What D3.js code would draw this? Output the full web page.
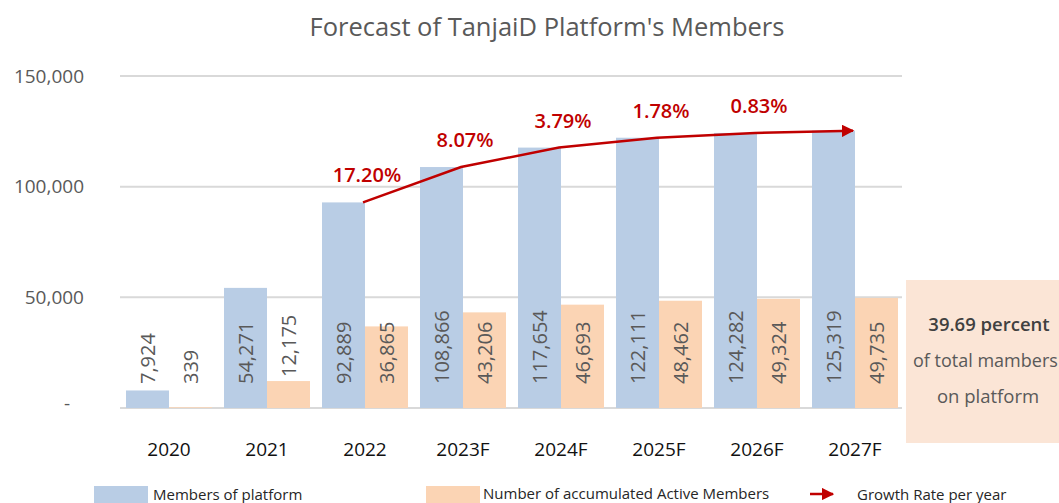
<!DOCTYPE html>
<html>
<head>
<meta charset="utf-8">
<script src="https://cdn.jsdelivr.net/npm/d3@7"></script>
<style>
  body { margin: 0; background: #fff; }
  svg { display: block; font-family: "Open Sans", sans-serif; }
</style>
</head>
<body>
<div id="chart"></div>
<script>
// chart data
var categories = ["2020", "2021", "2022", "2023F", "2024F", "2025F", "2026F", "2027F"];
var members = [7924, 54271, 92889, 108866, 117654, 122111, 124282, 125319];
var activeMembers = [339, 12175, 36865, 43206, 46693, 48462, 49324, 49735];
var growthYears = ["2022", "2023F", "2024F", "2025F", "2026F", "2027F"];
var growthLabels = ["17.20%", "8.07%", "3.79%", "1.78%", "0.83%"];
var yTicks = [0, 50000, 100000, 150000];
var seriesNames = ["Members of platform", "Number of accumulated Active Members", "Growth Rate per year"];

var W = 1059, H = 503;
var blue = "#b9cde5", orange = "#fbd4b4", red = "#c00000";

var svg = d3.select("#chart").append("svg")
  .attr("width", W)
  .attr("height", H);

var defs = svg.append("defs");
defs.append("marker")
  .attr("id", "arrow")
  .attr("viewBox", "0 0 10 10")
  .attr("refX", 9).attr("refY", 5)
  .attr("markerWidth", 5).attr("markerHeight", 5)
  .attr("markerUnits", "strokeWidth")
  .attr("orient", "auto")
  .append("path")
  .attr("d", "M0,0 L10,5 L0,10 Z")
  .attr("fill", red);

// scales
var x = d3.scaleBand().domain(categories).range([120, 904]);
var xs = d3.scaleBand().domain(["members", "active"]).range([6, 92]);
var y = d3.scaleLinear().domain([0, 150000]).range([408, 76]);

// title
svg.append("text")
  .attr("x", 547).attr("y", 36)
  .attr("text-anchor", "middle")
  .attr("fill", "#595959")
  .style("font-size", "25.5px")
  .text("Forecast of TanjaiD Platform's Members");

// grid
svg.selectAll(".grid")
  .data(yTicks)
  .enter().append("line")
  .attr("x1", 120).attr("x2", 902)
  .attr("y1", function(d) { return y(d); })
  .attr("y2", function(d) { return y(d); })
  .attr("stroke", "#d9d9d9")
  .attr("stroke-width", 2);

// y axis labels
var yAxis = svg.append("g")
  .attr("transform", "translate(84,0)")
  .call(d3.axisLeft(y).tickValues(yTicks).tickSize(0).tickPadding(0)
    .tickFormat(function(d) { return d === 0 ? "-" : d3.format(",")(d); }));
yAxis.select(".domain").remove();
yAxis.selectAll("text")
  .attr("fill", "#595959")
  .style("font-family", "Open Sans, sans-serif")
  .style("font-size", "19px");
yAxis.selectAll(".tick").filter(function(d) { return d === 0; }).select("text")
  .attr("x", -14).attr("dy", "0.1em");

// bars
var groups = svg.selectAll(".cat")
  .data(categories)
  .enter().append("g")
  .attr("transform", function(d) { return "translate(" + x(d) + ",0)"; });

groups.append("rect")
  .attr("x", xs("members"))
  .attr("width", xs.bandwidth())
  .attr("y", function(d, i) { return y(members[i]); })
  .attr("height", function(d, i) { return y(0) - y(members[i]); })
  .attr("fill", blue);

groups.append("rect")
  .attr("x", xs("active"))
  .attr("width", xs.bandwidth())
  .attr("y", function(d, i) { return y(activeMembers[i]); })
  .attr("height", function(d, i) { return y(0) - y(activeMembers[i]); })
  .attr("fill", orange);

// value labels (rotated, near bar base)
function valueLabel(vals, key) {
  groups.append("text")
    .attr("transform", function(d, i) {
      var cx = xs(key) + xs.bandwidth() / 2 + 7;
      var top = y(vals[i]);
      var cy = (top > 360 && top < 400) ? Math.min(384, top - 4) : 384;
      return "translate(" + cx + "," + cy + ") rotate(-90)";
    })
    .attr("fill", "#595959")
    .style("font-size", "20px")
    .text(function(d, i) { return d3.format(",")(vals[i]); });
}
valueLabel(members, "members");
valueLabel(activeMembers, "active");

// category labels
svg.selectAll(".catLabel")
  .data(categories)
  .enter().append("text")
  .attr("x", function(d) { return x(d) + x.bandwidth() / 2; })
  .attr("y", 456)
  .attr("text-anchor", "middle")
  .attr("fill", "#111")
  .style("font-size", "19px")
  .text(function(d) { return d; });

// growth line through top-right corners of member bars
var linePts = growthYears.map(function(c) {
  var i = categories.indexOf(c);
  return [x(c) + xs("members") + xs.bandwidth() - 2, y(members[i])];
});
svg.append("path")
  .attr("d", d3.line()(linePts))
  .attr("fill", "none")
  .attr("stroke", red)
  .attr("stroke-width", 2.5)
  .attr("marker-end", "url(#arrow)");

svg.selectAll(".growth")
  .data(growthLabels)
  .enter().append("text")
  .attr("x", function(d, i) { return x(growthYears[i]) + x.bandwidth() / 2 + 2; })
  .attr("y", function(d, i) { return y(members[categories.indexOf(growthYears[i])]) - 20; })
  .attr("text-anchor", "middle")
  .attr("fill", red)
  .style("font-size", "20px")
  .style("font-weight", "600")
  .text(function(d) { return d; });

// side note box
svg.append("rect")
  .attr("x", 906).attr("y", 280)
  .attr("width", 160).attr("height", 163)
  .attr("fill", "#fbe5d6");
svg.append("text")
  .attr("x", 989).attr("y", 331)
  .attr("text-anchor", "middle")
  .attr("fill", "#404040")
  .style("font-size", "18.5px")
  .style("font-weight", "600")
  .text("39.69 percent");
svg.append("text")
  .attr("x", 913).attr("y", 367)
  .attr("fill", "#595959")
  .style("font-size", "18px")
  .text("of total mambers");
svg.append("text")
  .attr("x", 988).attr("y", 403)
  .attr("text-anchor", "middle")
  .attr("fill", "#595959")
  .style("font-size", "18.5px")
  .text("on platform");

// legend
var legend = svg.append("g");
legend.append("rect").attr("x", 94).attr("y", 486).attr("width", 54).attr("height", 20).attr("fill", blue);
legend.append("text").attr("x", 153).attr("y", 500).attr("fill", "#262626")
  .style("font-size", "15px").text(seriesNames[0]);
legend.append("rect").attr("x", 426).attr("y", 486).attr("width", 54).attr("height", 20).attr("fill", orange);
legend.append("text").attr("x", 483).attr("y", 499).attr("fill", "#262626")
  .style("font-size", "15px").text(seriesNames[1]);
legend.append("line")
  .attr("x1", 810).attr("x2", 833).attr("y1", 494).attr("y2", 494)
  .attr("stroke", red).attr("stroke-width", 2.5)
  .attr("marker-end", "url(#arrow)");
legend.append("text").attr("x", 857).attr("y", 500).attr("fill", "#262626")
  .style("font-size", "15px").text(seriesNames[2]);
</script>
</body>
</html>
